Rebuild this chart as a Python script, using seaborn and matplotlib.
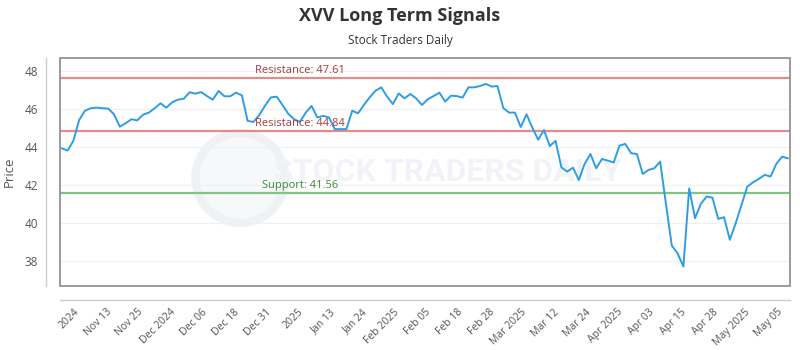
import numpy as np
import pandas as pd
import matplotlib
matplotlib.use("Agg")
from matplotlib import pyplot as plt
from matplotlib.patches import Rectangle, Ellipse
import seaborn as sns

# chart data
title = "XVV Long Term Signals"
subtitle = "Stock Traders Daily"
prices = [43.93, 43.81, 44.32, 45.42, 45.91, 46.04, 46.07, 46.04, 46.02, 45.72,
          45.07, 45.25, 45.46, 45.40, 45.70, 45.81, 46.04, 46.30, 46.07, 46.35,
          46.49, 46.54, 46.88, 46.81, 46.89, 46.68, 46.49, 46.95, 46.67, 46.67,
          46.86, 46.72, 45.37, 45.32, 45.68, 46.18, 46.61, 46.65, 46.21, 45.74,
          45.46, 45.32, 45.81, 46.16, 45.55, 45.64, 45.55, 44.94, 44.94, 44.94,
          45.91, 45.77, 46.21, 46.61, 46.96, 47.14, 46.65, 46.26, 46.82, 46.56,
          46.79, 46.56, 46.21, 46.51, 46.68, 46.86, 46.39, 46.70, 46.68, 46.60,
          47.14, 47.14, 47.21, 47.32, 47.18, 47.21, 46.05, 45.81, 45.81, 45.05,
          45.72, 45.02, 44.38, 44.89, 44.05, 44.32, 42.93, 42.70, 42.91, 42.26,
          43.11, 43.63, 42.88, 43.37, 43.28, 43.18, 44.07, 44.16, 43.67, 43.63,
          42.58, 42.79, 42.88, 43.23, 41.00, 38.81, 38.40, 37.70, 41.82, 40.25,
          41.00, 41.39, 41.33, 40.21, 40.30, 39.11, 39.98, 40.95, 41.91, 42.14,
          42.32, 42.53, 42.44, 43.11, 43.49, 43.40]
tick_labels = ["2024", "Nov 13", "Nov 25", "Dec 2024", "Dec 06", "Dec 18", "Dec 31",
               "2025", "Jan 13", "Jan 24", "Feb 2025", "Feb 05", "Feb 18", "Feb 28",
               "Mar 2025", "Mar 12", "Mar 24", "Apr 2025", "Apr 03", "Apr 15",
               "Apr 28", "May 2025", "May 05"]
levels = [47.61, 44.84, 41.56]
level_names = ["Resistance", "Resistance", "Support"]

sns.set_style("white")
plt.rcParams['font.family'] = ['Open Sans', 'DejaVu Sans']

df = pd.DataFrame({"Day": np.arange(len(prices)), "Price": prices})

fig = plt.figure(figsize=(8, 3.5), dpi=100)
ax = fig.add_axes([0.075, 0.183, 0.9125, 0.651])

# faint watermark
ax.add_patch(Ellipse((0.247, 0.474), 0.123, 0.395, transform=ax.transAxes,
                     facecolor="#f6f8fa", edgecolor="#eef2f5", lw=6, zorder=0))
ax.text(0.53, 0.5, "STOCK TRADERS DAILY", transform=ax.transAxes,
        ha="center", va="center", fontsize=23, fontweight="bold",
        color="#f1f3f6", family=["Roboto", "DejaVu Sans"], zorder=0)

# grid
for v in range(38, 50, 2):
    ax.axhline(v, color="#f0f0f0", lw=0.8, zorder=1)

line_colors = ["#e38b8b", "#e38b8b", "#86c286"]
text_colors = ["#a33a3a", "#a33a3a", "#3b8a3b"]
for lvl, name, lc, tc in zip(levels, level_names, line_colors, text_colors):
    ax.axhline(lvl, color=lc, lw=1.6, zorder=2)
    ax.annotate("{}: {:.2f}".format(name, lvl), xy=(0.329, lvl),
                xycoords=("axes fraction", "data"), xytext=(0, 1.5),
                textcoords="offset points", ha="center", va="bottom",
                fontsize=8, color=tc, zorder=4)

sns.lineplot(data=df, x="Day", y="Price", ax=ax, color="#2f9de4", lw=1.4, zorder=3)

# offset axis lines + plot box (spine positioning resets ticks, so do it first)
for s in ["top", "right"]:
    ax.spines[s].set_visible(False)
for s in ["left", "bottom"]:
    ax.spines[s].set_position(("outward", 10))
    ax.spines[s].set_color("#cccccc")
    ax.spines[s].set_linewidth(1)
ax.add_patch(Rectangle((0, 0), 1, 1, transform=ax.transAxes, fill=False,
                       edgecolor="#8a8a8a", lw=1.2, clip_on=False, zorder=5))

ax.set_xlim(-0.3, 125.35)
ax.set_ylim(36.68, 48.68)
ax.set_yticks(range(38, 50, 2))
ax.tick_params(axis="y", length=0, labelsize=8.5, labelcolor="#555555", pad=6)
ax.tick_params(axis="x", length=0, labelsize=7.5, labelcolor="#555555", pad=5)
ticks = 2.1 + 5.5 * np.arange(len(tick_labels))
ax.set_xticks(ticks)
ax.set_xticklabels(tick_labels, rotation=45, ha="right", rotation_mode="anchor")
ax.set_xlabel("")
ax.set_ylabel("Price", fontsize=9.5, color="#555555", labelpad=6)

fig.text(0.5, 0.955, title, ha="center", va="center", fontsize=13, fontweight="bold",
         color="#333333", family=["Open Sans", "DejaVu Sans"])
fig.text(0.5, 0.885, subtitle, ha="center", va="center", fontsize=8.5, color="#333333",
         family=["Open Sans", "DejaVu Sans"])

plt.savefig("out.png", dpi=100)
